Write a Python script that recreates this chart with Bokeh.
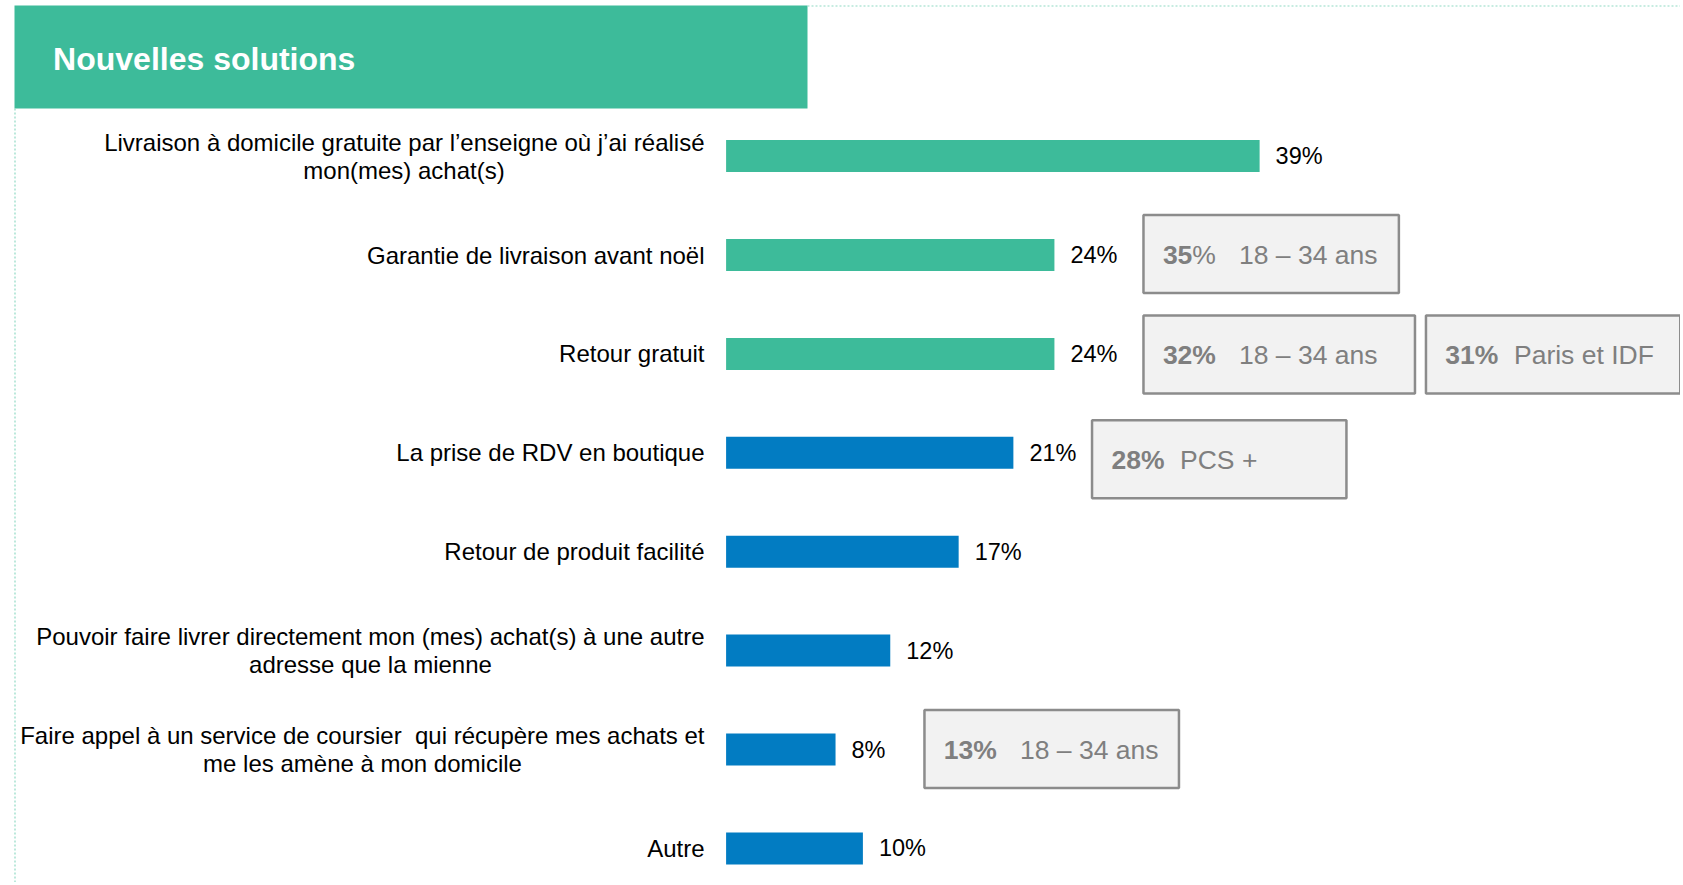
from bokeh.plotting import figure
from bokeh.models import Range1d, ColumnDataSource
from bokeh.embed import file_html
from bokeh.resources import INLINE
from bokeh.core.properties import value

# ---------------- data ----------------
title = "Nouvelles solutions"
categories = [
    "Livraison à domicile gratuite par l’enseigne où j’ai réalisé\nmon(mes) achat(s)",
    "Garantie de livraison avant noël",
    "Retour gratuit",
    "La prise de RDV en boutique",
    "Retour de produit facilité",
    "Pouvoir faire livrer directement mon (mes) achat(s) à une autre\nadresse que la mienne",
    "Faire appel à un service de coursier \u00a0qui récupère mes achats et\nme les amène à mon domicile",
    "Autre",
]
values = [39, 24, 24, 21, 17, 12, 8, 10]
groups = ["livraison", "livraison", "livraison", "service", "service", "service", "service", "service"]

callout_rows = [1, 2, 2, 3, 6]
callout_values = [35, 32, 31, 28, 13]
callout_labels = ["18 – 34 ans", "18 – 34 ans", "Paris et IDF", "PCS +", "18 – 34 ans"]
callout_pct_bold = [False, True, True, True, True]

# ---------------- layout / style ----------------
W, H = 1680, 882
PX_PER_PCT = 13.68
X0 = 725.6          # px of 0 %
ROW_PX = 98.9
ROW0 = 155.6        # px of first row centre

GREEN = "#3dbb9a"
BLUE = "#027cc2"
colors = {"livraison": GREEN, "service": BLUE}
FONT = "Liberation Sans"


def xd(px):
    return (px - X0) / PX_PER_PCT


def yd(px):
    return (px - ROW0) / ROW_PX


p = figure(width=W, height=H, output_backend="svg", toolbar_location=None,
           x_range=Range1d(xd(0), xd(W)), y_range=Range1d(yd(H), yd(0)),
           x_axis_location=None, y_axis_location=None, min_border=0)
p.grid.visible = False
p.outline_line_color = None
p.background_fill_color = "white"
p.border_fill_color = "white"

# header
p.quad(left=[xd(14)], right=[xd(807)], top=[yd(5)], bottom=[yd(108)],
       fill_color=GREEN, line_color=None)
p.text(x=[xd(52.6)], y=[yd(58)], text=[title], text_color="white",
       text_font=value(FONT), text_font_style="bold", text_font_size="32px",
       text_baseline="middle", text_align="left")

# dotted frame lines
p.segment(x0=[xd(807)], y0=[yd(5.5)], x1=[xd(W)], y1=[yd(5.5)],
          line_color="#8fd9c4", line_dash="2 2", line_width=1.2)
p.segment(x0=[xd(14.5)], y0=[yd(108)], x1=[xd(14.5)], y1=[yd(H)],
          line_color="#8fd9c4", line_dash="2 2", line_width=1.2)

# bars
idx = list(range(len(values)))
src = ColumnDataSource(dict(y=idx, v=values, c=[colors[g] for g in groups],
                            lab=[f"{v}%" for v in values],
                            lx=[v + 16 / PX_PER_PCT for v in values]))
p.hbar(y="y", left=0, right="v", height=32 / ROW_PX, fill_color="c",
       line_color=None, source=src)
p.text(x="lx", y="y", text="lab", source=src, text_color="black",
       text_font=value(FONT), text_font_size="23.5px", text_baseline="middle",
       text_align="left")

# category labels
first_line_width_px = {0: 601, 5: 668, 6: 684}
LAB_X = xd(704.0)
dy = 14 / ROW_PX
for i, lab in enumerate(categories):
    lines = lab.split("\n")
    if len(lines) == 1:
        p.text(x=[LAB_X], y=[i], text=[lines[0]], text_color="black",
               text_font=value(FONT), text_font_size="24px",
               text_baseline="middle", text_align="right")
    else:
        p.text(x=[LAB_X], y=[i - dy], text=[lines[0]], text_color="black",
               text_font=value(FONT), text_font_size="24px",
               text_baseline="middle", text_align="right")
        cx = LAB_X - first_line_width_px[i] / 2 / PX_PER_PCT
        p.text(x=[cx], y=[i + dy], text=[lines[1]], text_color="black",
               text_font=value(FONT), text_font_size="24px",
               text_baseline="middle", text_align="center")

# callouts
box_left_pct = [30.51, 30.51, 51.16, 26.75, 14.5]
box_width_px = [255.4, 271.5, 254.3, 254.4, 254.5]
box_dy = [-0.01, 0.005, 0.005, 0.065, -0.005]
seg_offset_px = [95.5, 95.5, 88, 88, 95.5]
BOX_H = 78 / ROW_PX
GREY = "#7f7f7f"
FS = "26.5px"
for k in range(len(callout_values)):
    r = callout_rows[k] + box_dy[k]
    left = box_left_pct[k]
    right = left + box_width_px[k] / PX_PER_PCT
    p.quad(left=[left], right=[right], top=[r - BOX_H / 2], bottom=[r + BOX_H / 2],
           fill_color="#f2f2f2", line_color="#8c8c8c", line_width=2.5)
    tx = left + 19.4 / PX_PER_PCT
    ty = r + 0.01
    if callout_pct_bold[k]:
        p.text(x=[tx], y=[ty], text=[f"{callout_values[k]}%"], text_color=GREY,
               text_font=value(FONT), text_font_style="bold", text_font_size=FS,
               text_baseline="middle", text_align="left")
    else:
        num = str(callout_values[k])
        p.text(x=[tx], y=[ty], text=[num], text_color=GREY,
               text_font=value(FONT), text_font_style="bold", text_font_size=FS,
               text_baseline="middle", text_align="left")
        p.text(x=[tx + len(num) * 0.556 * 26.5 / PX_PER_PCT], y=[ty], text=["%"],
               text_color=GREY, text_font=value(FONT), text_font_size=FS,
               text_baseline="middle", text_align="left")
    p.text(x=[left + seg_offset_px[k] / PX_PER_PCT], y=[ty], text=[callout_labels[k]],
           text_color=GREY, text_font=value(FONT), text_font_size=FS,
           text_baseline="middle", text_align="left")

open("out.html", "w").write(file_html(p, INLINE))
